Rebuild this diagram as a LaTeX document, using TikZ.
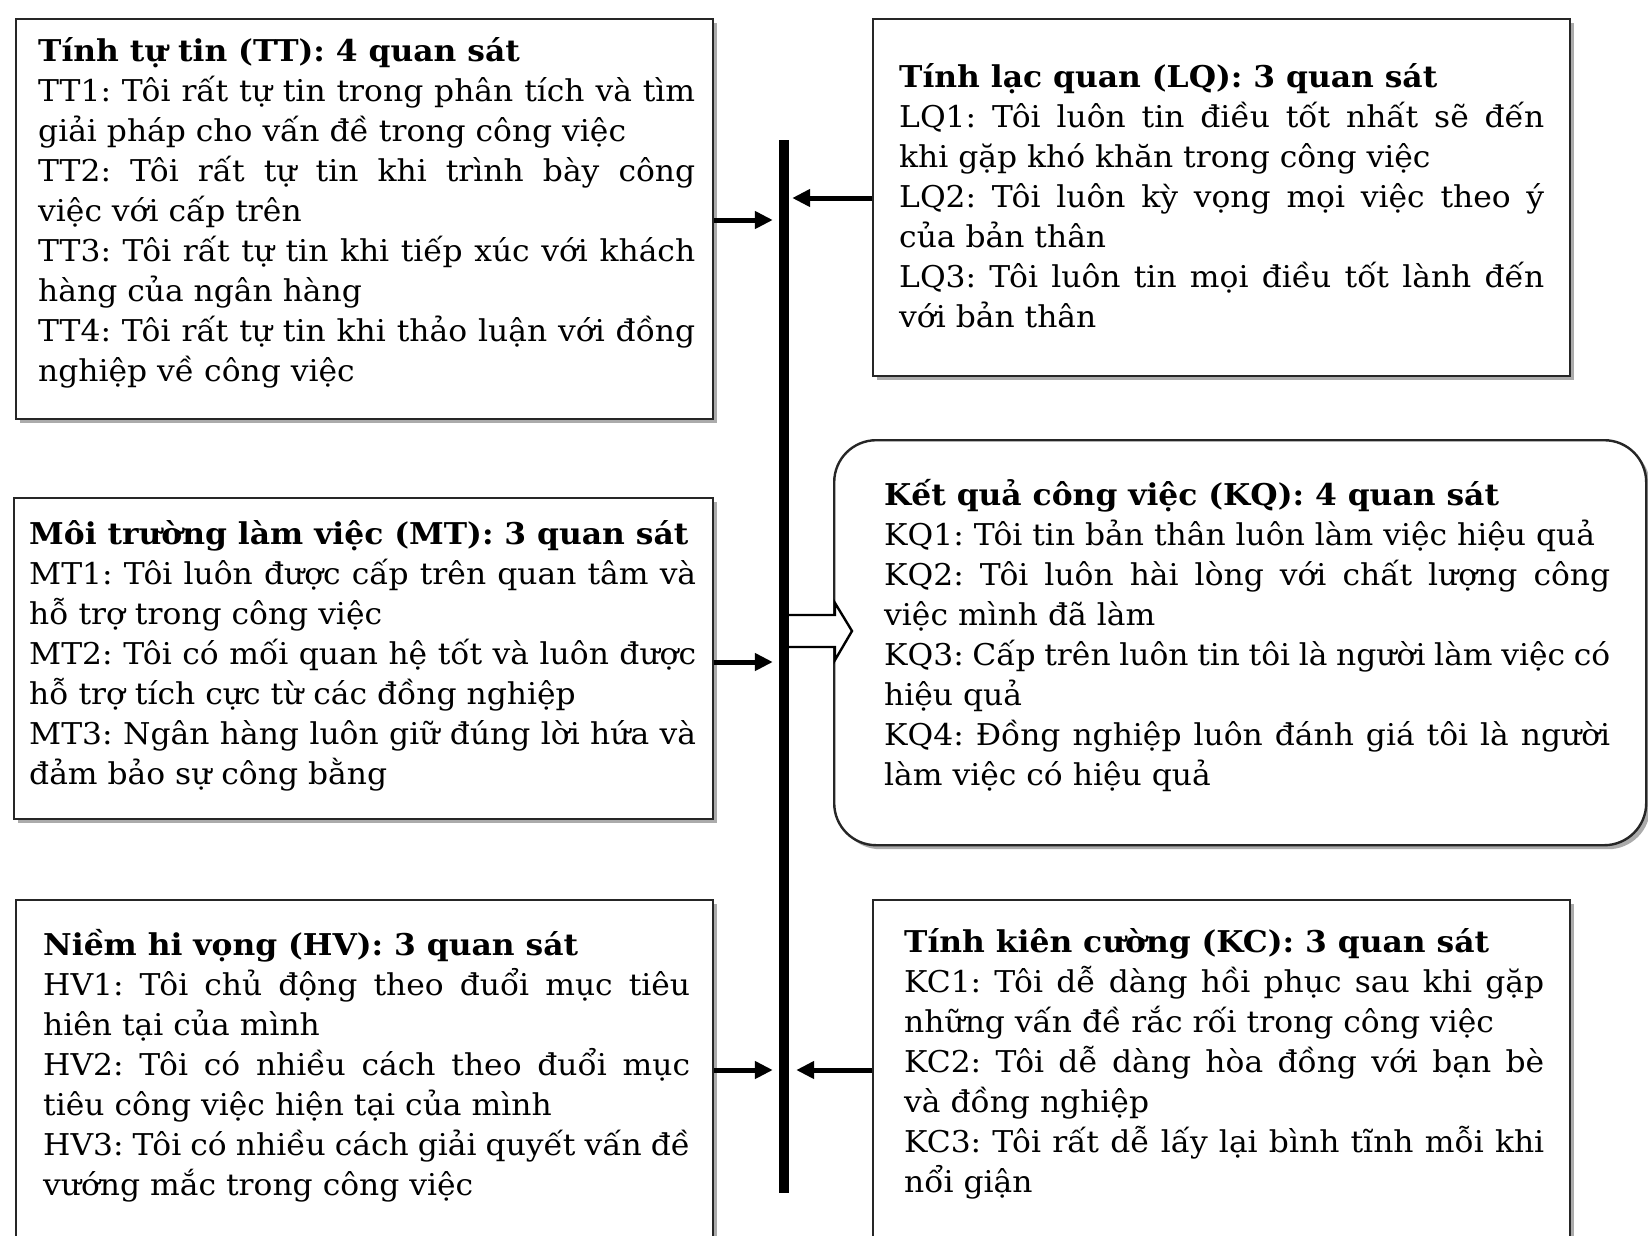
\documentclass[tikz,border=0pt]{standalone}
\usepackage{fontspec}
\setmainfont{DejaVu Serif}[FakeStretch=1.045]
\usetikzlibrary{arrows.meta,shadows}
\tolerance=9999
\hyphenpenalty=10000
\hbadness=10000
\frenchspacing
\tikzset{
  boxshape/.style={draw=black!85, line width=2.4pt, fill=white, inner sep=0pt, anchor=north west,
    drop shadow={shadow xshift=4pt, shadow yshift=-4pt, fill=black!55, opacity=0.6}},
  txt/.style={anchor=base west, inner sep=0pt, align=justify,
    font=\fontsize{30}{40}\selectfont},
  arr/.style={line width=5pt, -{Triangle[length=18pt,width=17pt]}},
}
\begin{document}
\begin{tikzpicture}[x=1pt,y=-1pt]
\useasboundingbox (0,0) rectangle (1648,1235);
\fill[white] (0,0) rectangle (1648,1235);

% boxes
\node[boxshape, minimum width=697pt, minimum height=400pt] (tt) at (15,18) {};
\node[boxshape, minimum width=697pt, minimum height=357pt] (lq) at (872,18) {};
\node[boxshape, minimum width=699pt, minimum height=321pt] (mt) at (13,497) {};
\node[boxshape, rounded corners=42pt, minimum width=812pt, minimum height=405pt] (kq) at (833,439) {};
\node[boxshape, minimum width=697pt, minimum height=400pt] (hv) at (15,899) {};
\node[boxshape, minimum width=697pt, minimum height=400pt] (kc) at (872,899) {};

% texts
\node[txt, text width=657pt] (tt-t) at (38,61) {%
\textbf{Tính tự tin (TT): 4 quan sát}\par
TT1: Tôi rất tự tin trong phân tích và tìm\linebreak giải pháp cho vấn đề trong công việc\par
TT2: Tôi rất tự tin khi trình bày công\linebreak việc với cấp trên\par
TT3: Tôi rất tự tin khi tiếp xúc với khách\linebreak hàng của ngân hàng\par
TT4: Tôi rất tự tin khi thảo luận với đồng\linebreak nghiệp về công việc};

\node[txt, text width=645pt] (lq-t) at (899,87) {%
\textbf{Tính lạc quan (LQ): 3 quan sát}\par
LQ1: Tôi luôn tin điều tốt nhất sẽ đến\linebreak khi gặp khó khăn trong công việc\par
LQ2: Tôi luôn kỳ vọng mọi việc theo ý\linebreak của bản thân\par
LQ3: Tôi luôn tin mọi điều tốt lành đến\linebreak với bản thân};

\node[txt, text width=667pt] (mt-t) at (29,544) {%
\textbf{Môi trường làm việc (MT): 3 quan sát}\par
MT1: Tôi luôn được cấp trên quan tâm và\linebreak hỗ trợ trong công việc\par
MT2: Tôi có mối quan hệ tốt và luôn được\linebreak hỗ trợ tích cực từ các đồng nghiệp\par
MT3: Ngân hàng luôn giữ đúng lời hứa và\linebreak đảm bảo sự công bằng};

\node[txt, text width=726pt] (kq-t) at (884,505) {%
\textbf{Kết quả công việc (KQ): 4 quan sát}\par
KQ1: Tôi tin bản thân luôn làm việc hiệu quả\par
KQ2: Tôi luôn hài lòng với chất lượng công\linebreak việc mình đã làm\par
KQ3: Cấp trên luôn tin tôi là người làm việc có\linebreak hiệu quả\par
KQ4: Đồng nghiệp luôn đánh giá tôi là người\linebreak làm việc có hiệu quả};

\node[txt, text width=647pt] (hv-t) at (43,955) {%
\textbf{Niềm hi vọng (HV): 3 quan sát}\par
HV1: Tôi chủ động theo đuổi mục tiêu\linebreak hiên tại của mình\par
HV2: Tôi có nhiều cách theo đuổi mục\linebreak tiêu công việc hiện tại của mình\par
HV3: Tôi có nhiều cách giải quyết vấn đề\linebreak vướng mắc trong công việc};

\node[txt, text width=640pt] (kc-t) at (904,952) {%
\textbf{Tính kiên cường (KC): 3 quan sát}\par
KC1: Tôi dễ dàng hồi phục sau khi gặp\linebreak những vấn đề rắc rối trong công việc\par
KC2: Tôi dễ dàng hòa đồng với bạn bè\linebreak và đồng nghiệp\par
KC3: Tôi rất dễ lấy lại bình tĩnh mỗi khi\linebreak nổi giận};

% hollow arrow to KQ
\draw[line width=2.4pt, fill=white, line join=miter]
  (784,615) -- (835,615) -- (835,603) -- (852,631) -- (835,660) -- (835,647) -- (784,647);

% vertical bar
\node[fill=black, inner sep=0pt, minimum width=10pt, minimum height=1053pt, anchor=north] (bar) at (784,140) {};

% arrows
\coordinate (y-tt) at (0,220);
\coordinate (y-lq) at (0,198);
\coordinate (y-mt) at (0,662);
\coordinate (y-hv) at (0,1070);
\draw[arr] (tt.east |- y-tt) -- ([xshift=-6pt]bar.west |- y-tt);
\draw[arr] (lq.west |- y-lq) -- ([xshift=3pt]bar.east |- y-lq);
\draw[arr] (mt.east |- y-mt) -- ([xshift=-6pt]bar.west |- y-mt);
\draw[arr] (hv.east |- y-hv) -- ([xshift=-6pt]bar.west |- y-hv);
\draw[arr] (kc.west |- y-hv) -- ([xshift=7pt]bar.east |- y-hv);
\end{tikzpicture}
\end{document}
